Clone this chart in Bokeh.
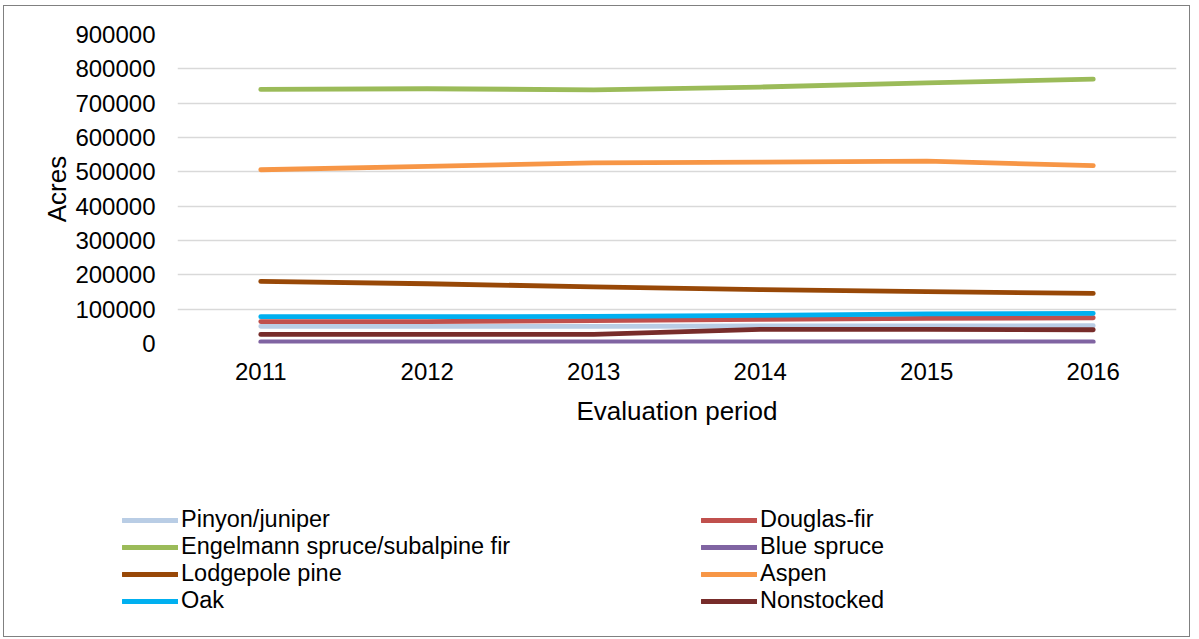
from bokeh.plotting import figure
from bokeh.layouts import column, row
from bokeh.models import Range1d, FixedTicker, Legend, LegendItem, PrintfTickFormatter
from bokeh.embed import file_html
from bokeh.resources import INLINE

years = [2011, 2012, 2013, 2014, 2015, 2016]
year_labels = ["2011", "2012", "2013", "2014", "2015", "2016"]
y_ticks = [0, 100000, 200000, 300000, 400000, 500000, 600000, 700000, 800000, 900000]

pinyon_juniper = [50000, 50000, 50000, 51000, 51000, 52000]
douglas_fir = [64000, 64000, 67000, 70000, 73000, 75000]
engelmann = [740000, 742000, 739000, 747000, 759000, 770000]
blue_spruce = [5000, 5000, 5000, 5000, 5000, 5000]
lodgepole = [181000, 174000, 165000, 157000, 151000, 146000]
aspen = [506000, 516000, 526000, 528000, 531000, 518000]
oak = [78000, 78000, 79000, 82000, 86000, 88000]
nonstocked = [26500, 26500, 26500, 41000, 41000, 40000]

series_names = ["Pinyon/juniper", "Douglas-fir", "Engelmann spruce/subalpine fir",
                "Blue spruce", "Lodgepole pine", "Aspen", "Oak", "Nonstocked"]
series_values = [pinyon_juniper, douglas_fir, engelmann, blue_spruce,
                 lodgepole, aspen, oak, nonstocked]
colors = ["#B9CDE5", "#C0504D", "#9BBB59", "#8064A2",
          "#984807", "#F79646", "#00B0F0", "#772C2A"]

FONT = "Liberation Sans"
W = 1185

p = figure(width=W, height=470, output_backend="svg", toolbar_location=None,
           x_range=Range1d(2010.5, 2016.5), y_range=Range1d(0, 900000),
           min_border_left=173, min_border_right=13, min_border_top=28,
           min_border_bottom=133)
p.outline_line_color = None

for name, vals, c in zip(series_names, series_values, colors):
    p.line(years, vals, line_color=c, line_width=4.8, line_cap="round",
           line_join="round")

p.xgrid.grid_line_color = None
p.ygrid.grid_line_color = "#D9D9D9"
p.ygrid.grid_line_width = 1.3
p.ygrid.ticker = FixedTicker(ticks=y_ticks)

p.yaxis.ticker = FixedTicker(ticks=y_ticks)
p.yaxis.formatter = PrintfTickFormatter(format="%d")
p.xaxis.ticker = FixedTicker(ticks=years)
p.xaxis.major_label_overrides = {y: l for y, l in zip(years, year_labels)}

for ax in (p.xaxis[0], p.yaxis[0]):
    ax.axis_line_color = None
    ax.major_tick_line_color = None
    ax.minor_tick_line_color = None
    ax.major_tick_out = 0
    ax.major_tick_in = 0
    ax.major_label_text_font = FONT
    ax.major_label_text_font_size = "24px"
    ax.major_label_text_color = "#000000"
    ax.axis_label_text_font = FONT
    ax.axis_label_text_font_size = "26px"
    ax.axis_label_text_font_style = "normal"
    ax.axis_label_text_color = "#000000"

p.yaxis.axis_label = "Acres"
p.yaxis.major_label_standoff = 22
p.yaxis.axis_label_standoff = 0
p.xaxis.axis_label = "Evaluation period"
p.xaxis.major_label_standoff = 19
p.xaxis.axis_label_standoff = 13

# legend panel underneath the chart
lg = figure(width=W, height=160, output_backend="svg", toolbar_location=None,
            x_axis_type=None, y_axis_type=None, min_border=0,
            x_range=Range1d(0, 1), y_range=Range1d(0, 1))
lg.outline_line_color = None
lg.xgrid.grid_line_color = None
lg.ygrid.grid_line_color = None
items = []
for name, vals, c in zip(series_names, series_values, colors):
    # same series, outside the legend panel's view; only the swatches show
    r = lg.line(years, vals, line_color=c, line_width=4.8, line_cap="round")
    items.append(LegendItem(label=name, renderers=[r]))

legend = Legend(items=items, location=(118, 22), orientation="horizontal", ncols=2,
                glyph_width=56, glyph_height=20, label_height=20, spacing=-3,
                label_standoff=3, label_width=520, padding=0, margin=0,
                border_line_color=None, background_fill_alpha=0,
                label_text_font=FONT, label_text_font_size="23.5px",
                label_text_color="#000000")
lg.add_layout(legend, "center")

layout = column(p, row(lg, spacing=0), spacing=0,
                styles={"margin-left": "3px", "margin-top": "5px",
                        "border": "1px solid #808080"})

open("out.html", "w").write(file_html(layout, INLINE))
